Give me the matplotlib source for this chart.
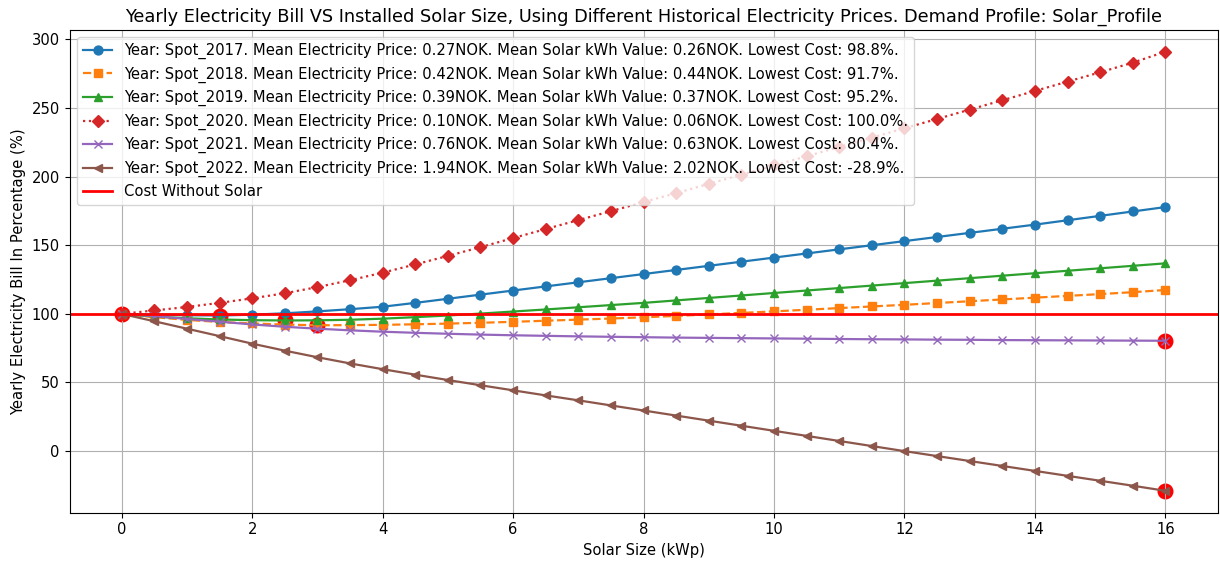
import matplotlib
matplotlib.use("Agg")
import matplotlib.pyplot as plt
import numpy as np

# solar sizes, kWp
sizes = np.arange(0, 16.5, 0.5)

years = ["Spot_2017", "Spot_2018", "Spot_2019", "Spot_2020", "Spot_2021", "Spot_2022"]
mean_price = [0.27, 0.42, 0.39, 0.10, 0.76, 1.94]
mean_solar_value = [0.26, 0.44, 0.37, 0.06, 0.63, 2.02]

bill_2017 = [100, 99.5, 99.0, 98.8, 99.4, 100.4, 101.8, 103.4, 105.2, 108.0, 111.0, 114.0,
             117.0, 120.0, 123.0, 126.0, 129.0, 132.0, 135.0, 138.0, 141.0, 144.0, 147.0,
             150.0, 153.0, 156.0, 159.0, 162.0, 165.0, 168.2, 171.4, 174.6, 177.8]
bill_2018 = [100, 97.6, 95.6, 94.1, 93.0, 92.2, 91.7, 91.8, 92.0, 92.4, 92.9, 93.5,
             94.2, 95.0, 95.8, 96.6, 97.5, 98.5, 99.6, 100.7, 101.8, 103.0, 104.2,
             105.4, 106.6, 107.9, 109.2, 110.5, 111.8, 113.1, 114.4, 115.8, 117.4]
bill_2019 = [100, 98.0, 96.8, 95.9, 95.4, 95.2, 95.3, 95.7, 96.5, 97.6, 98.8, 100.2,
             101.7, 103.2, 104.8, 106.4, 108.0, 109.8, 111.6, 113.4, 115.2, 117.0, 118.8,
             120.6, 122.4, 124.2, 126.0, 127.8, 129.6, 131.4, 133.2, 135.0, 136.8]
bill_2020 = [100, 102.5, 105.0, 108.0, 111.3, 115.0, 119.5, 124.5, 130.0, 136.0, 142.2, 148.6,
             155.2, 161.8, 168.3, 174.8, 181.4, 188.0, 194.7, 201.4, 208.1, 214.8, 221.6,
             228.4, 235.2, 242.0, 248.8, 255.6, 262.4, 269.2, 276.0, 283.0, 291.0]
bill_2021 = [100, 98.3, 96.3, 94.3, 92.3, 90.6, 89.2, 88.0, 87.0, 86.2, 85.5, 84.9,
             84.4, 84.0, 83.6, 83.3, 83.0, 82.7, 82.5, 82.3, 82.1, 81.9, 81.7,
             81.5, 81.4, 81.2, 81.1, 80.9, 80.8, 80.7, 80.6, 80.5, 80.4]
bill_2022 = [100, 94.6, 89.2, 83.8, 78.3, 73.2, 68.4, 63.9, 59.7, 55.7, 51.8, 48.0,
             44.3, 40.6, 37.0, 33.3, 29.6, 25.9, 22.2, 18.5, 14.8, 11.1, 7.4,
             3.7, 0.0, -3.6, -7.2, -10.8, -14.4, -18.0, -21.6, -25.2, -28.9]

bills = [bill_2017, bill_2018, bill_2019, bill_2020, bill_2021, bill_2022]
styles = ['o-', 's--', '^-', 'D:', 'x-', '<-']

plt.rcParams['font.size'] = 10.6
plt.rcParams['axes.titlesize'] = 12.8
plt.rcParams['lines.linewidth'] = 1.6
plt.rcParams['lines.markersize'] = 6.4

fig = plt.figure(figsize=(12.2, 5.61), dpi=100)
ax = fig.add_axes([0.057, 0.086, 0.941, 0.861])

for i in range(len(years)):
    b = np.array(bills[i])
    k = np.argmin(b)
    ax.plot(sizes[k], b[k], 'o', color='red', markersize=10.5, zorder=1)
    label = "Year: %s. Mean Electricity Price: %.2fNOK. Mean Solar kWh Value: %.2fNOK. Lowest Cost: %.1f%%." % (
        years[i], mean_price[i], mean_solar_value[i], b[k])
    ax.plot(sizes, b, styles[i], color="C%d" % i, label=label, zorder=2)

ax.axhline(100, color='red', linewidth=2, label='Cost Without Solar', zorder=2.5)

ax.set_title("Yearly Electricity Bill VS Installed Solar Size, Using Different Historical Electricity Prices. Demand Profile: Solar_Profile")
ax.set_xlabel("Solar Size (kWp)")
ax.set_ylabel("Yearly Electricity Bill In Percentage (%)")
ax.grid(True)
ax.legend(loc='upper left')

fig.savefig("out.png", dpi=100)
